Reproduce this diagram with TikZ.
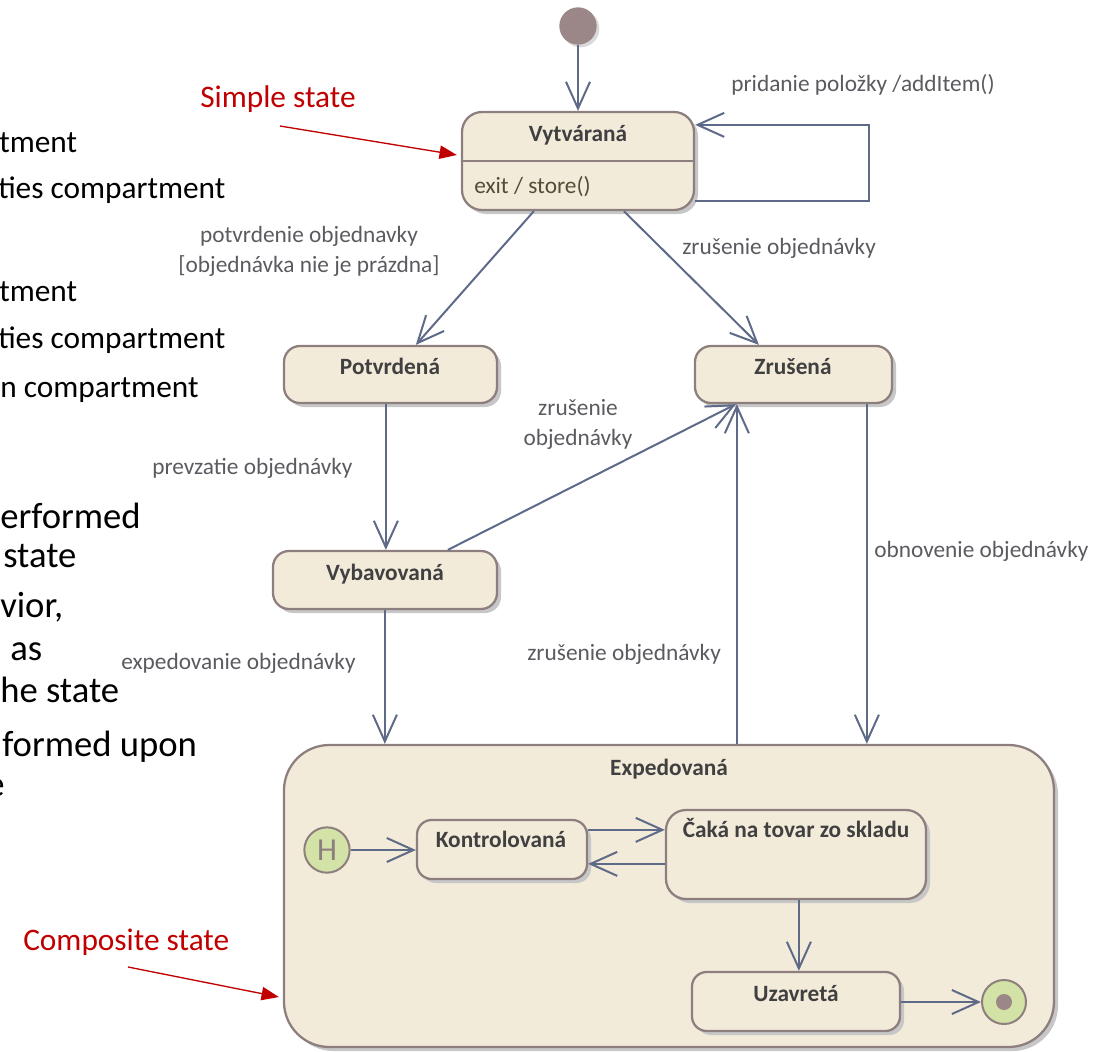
\documentclass[tikz,border=0pt]{standalone}
\usepackage{fontspec}
\setmainfont{Carlito}
\usetikzlibrary{arrows.meta,calc,fit,shadows}

\definecolor{stfill}{HTML}{F3EBDA}
\definecolor{stline}{HTML}{8E7F7F}
\definecolor{connc}{HTML}{5E6A88}
\definecolor{lblc}{HTML}{5A5A60}
\definecolor{ttlc}{HTML}{404040}
\definecolor{actc}{HTML}{4F4F35}
\definecolor{notec}{HTML}{C00000}
\definecolor{pseudoc}{HTML}{D3E2A6}
\definecolor{dotc}{HTML}{9B8787}

\tikzset{
  stbox/.style={draw=stline, line width=1.7pt, fill=stfill, inner sep=0pt,
    rounded corners=#1,
    drop shadow={shadow xshift=3pt, shadow yshift=-3pt, fill=black!22, opacity=1}},
  stbox/.default=14pt,
  conn/.style={draw=connc, line width=1.5pt,
    -{Straight Barb[length=20pt,width=18pt,line width=1.5pt]}},
  notearrow/.style={draw=notec, line width=1pt, -{Triangle[length=13pt,width=10pt]}},
  lab/.style={text=lblc, inner sep=0pt, font=\fontsize{17.5}{21}\selectfont},
  ttl/.style={text=ttlc, inner sep=0pt, font=\fontsize{17.5}{21}\selectfont\bfseries},
  slide/.style={text=black, inner sep=0pt, anchor=base west, font=\fontsize{23.5}{28}\selectfont},
  slidebig/.style={text=black, inner sep=0pt, anchor=base west, font=\fontsize{27.5}{32}\selectfont},
  notetxt/.style={text=notec, inner sep=0pt, anchor=base west, font=\fontsize{23.5}{28}\selectfont},
}

\begin{document}
\begin{tikzpicture}[x=0.75pt,y=-0.75pt]
\useasboundingbox (0,0) rectangle (1097,1051);
\clip (0,0) rectangle (1097,1051);

% text of the slide running in from the left edge
\node[slide] (t1) at (-1,152) {tment};
\node[slide] (t2) at (-2,198) {ties compartment};
\node[slide] (t3) at (-1,301) {tment};
\node[slide] (t4) at (-2,348) {ties compartment};
\node[slide] (t5) at (0,397) {n compartment};
\node[slidebig] (t6) at (0,528) {erformed};
\node[slidebig] (t7) at (3,567) {state};
\node[slidebig] (t8) at (0,617) {vior,};
\node[slidebig] (t9) at (10,660) {as};
\node[slidebig] (t10) at (0,702) {he state};
\node[slidebig] (t11) at (2,756) {formed upon};
\node[slidebig] (t12) at (-14,796) {e};

% states
\node[stbox=15pt, fit={(462,112) (694,210)}] (vyt) {};
\draw[stline, line width=1.6pt] ($(vyt.north west)+(0,50)$) -- ($(vyt.north east)+(0,50)$);
\node[stbox=12pt, fit={(284,346) (497,403)}] (pot) {};
\node[stbox=12pt, fit={(695,346) (892,403)}] (zru) {};
\node[stbox=12pt, fit={(273,551) (497,609)}] (vyb) {};
\node[stbox=34pt, fit={(284,745) (1054,1047)}] (exp) {};
\node[stbox=11pt, fit={(417,820) (587,879)}] (kon) {};
\node[stbox=15pt, fit={(666,810) (926,899)}] (cak) {};
\node[stbox=11pt, fit={(692,972) (900,1031)}] (uza) {};

% pseudostates
\node[circle, fill=dotc, minimum size=28pt, inner sep=0pt,
  drop shadow={shadow xshift=2pt, shadow yshift=-2pt, fill=black!15, opacity=1}] (init) at (578,26) {};
\node[circle, draw=stline, line width=1.5pt, fill=pseudoc, minimum size=34pt, inner sep=0pt,
  text=stline, font=\fontsize{24}{28}\selectfont] (hist) at (327,850) {H};
\node[circle, draw=stline, line width=1.5pt, fill=pseudoc, minimum size=33pt, inner sep=0pt] (fin) at (1004,1002) {};
\node[circle, fill=dotc, minimum size=12pt, inner sep=0pt] (findot) at (fin.center) {};

% state names
\node[ttl, anchor=base] (n1) at (578,141) {Vytváraná};
\node[inner sep=0pt, anchor=base west, text=actc, font=\fontsize{17.5}{21}\selectfont] (n1b) at (474,193) {exit / store()};
\node[ttl, anchor=base] (n2) at (390,374) {Potvrdená};
\node[ttl, anchor=base] (n3) at (793,374) {Zrušená};
\node[ttl, anchor=base] (n4) at (385,580) {Vybavovaná};
\node[ttl, anchor=base] (n5) at (669,775) {Expedovaná};
\node[ttl, anchor=base] (n6) at (501,847) {Kontrolovaná};
\node[ttl, anchor=base] (n7) at (796,837) {Čaká na tovar zo skladu};
\node[ttl, anchor=base] (n8) at (796,1001) {Uzavretá};

% transitions
\draw[conn] (init.south) -- (vyt.north);
\draw[conn] ($(vyt.south east)+(0,-10)$) -- ++(174,0) |- ($(vyt.north east)+(0,14)$);
\draw[conn] ($(vyt.south west)+(73,0)$) -- ($(pot.north west)+(133,0)$);
\draw[conn] ($(vyt.south west)+(163,0)$) -- ($(zru.north west)+(65,0)$);
\draw[conn] ($(pot.south west)+(103,0)$) -- ($(vyb.north west)+(114,0)$);
\draw[conn] ($(vyb.north west)+(176,0)$) -- ($(zru.south west)+(42,0)$);
\draw[conn] ($(exp.north west)+(454,0)$) -- ($(zru.south west)+(43,0)$);
\draw[conn] ($(zru.south west)+(173,0)$) -- ($(exp.north west)+(584,0)$);
\draw[conn] ($(vyb.south west)+(113,0)$) -- ($(exp.north west)+(102,0)$);
\draw[conn] (hist.east) -- (hist.east -| kon.west);
\coordinate (k1) at ($(kon.north east)+(0,11)$);
\draw[conn] (k1) -- (k1 -| cak.west);
\coordinate (c1) at ($(cak.north west)+(0,55)$);
\draw[conn] (c1) -- (c1 -| kon.east);
\coordinate (c2) at ($(cak.south west)+(134,0)$);
\draw[conn] (c2) -- (c2 |- uza.north);
\draw[conn] (uza.east |- fin.center) -- (fin.west);

% transition labels
\node[lab, anchor=base west] (l1) at (731,91) {pridanie položky /addItem()};
\node[lab, anchor=base] (l2) at (309,242) {potvrdenie objednavky};
\node[lab, anchor=base] (l3) at (309,272) {[objednávka nie je prázdna]};
\node[lab, anchor=base west] (l4) at (682,254) {zrušenie objednávky};
\node[lab, anchor=base west] (l5) at (152,474) {prevzatie objednávky};
\node[lab, anchor=base] (l6) at (578,415) {zrušenie};
\node[lab, anchor=base] (l7) at (578,445) {objednávky};
\node[lab, anchor=base west] (l8) at (874,557) {obnovenie objednávky};
\node[lab, anchor=base west] (l9) at (527,660) {zrušenie objednávky};
\node[lab, anchor=base west] (l10) at (121,669) {expedovanie objednávky};

% annotations
\node[notetxt] (a1) at (200,107) {Simple state};
\coordinate (a1s) at (280,126);
\draw[notearrow] (a1s) -- ($(vyt.west)+(-4,-6)$);
\node[notetxt] (a2) at (23,950) {Composite state};
\coordinate (a2s) at (128,967);
\draw[notearrow] (a2s) -- ($(exp.west)+(-4,101)$);
\end{tikzpicture}
\end{document}
